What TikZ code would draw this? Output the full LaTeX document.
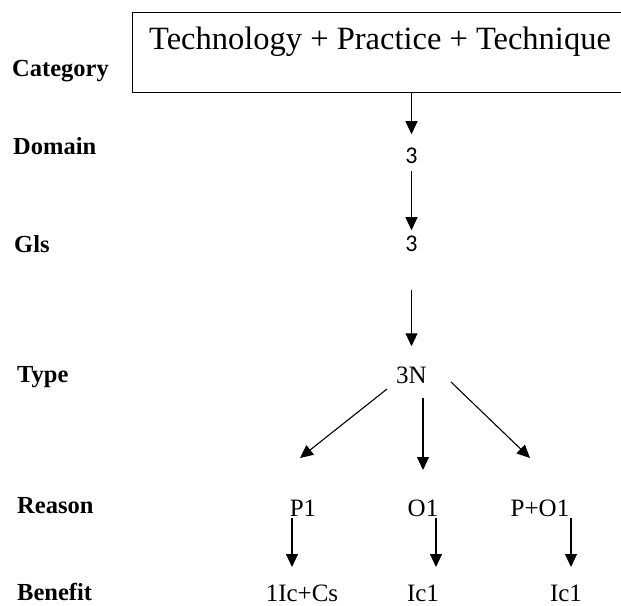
\documentclass[tikz,border=0pt]{standalone}
\usepackage{fontspec}
\setmainfont{Liberation Serif}
\newfontfamily\calibrifont{Carlito}
\usetikzlibrary{arrows.meta}

\tikzset{
  rowlabel/.style={anchor=base west, inner sep=0pt, font=\fontsize{24.5}{28}\selectfont\bfseries},
  value/.style={anchor=base, inner sep=0pt, font=\fontsize{25}{29}\selectfont},
  digit/.style={anchor=base, inner sep=0pt, font=\calibrifont\fontsize{24}{28}\selectfont},
  arr/.style={-{Triangle[width=12pt,length=13pt]}, line width=1.1pt},
}

\begin{document}
\begin{tikzpicture}[x=1pt,y=-1pt]
  \useasboundingbox (0,0) rectangle (621,605);

  % row labels
  \node[rowlabel] (lcat) at (12,76) {Category};
  \node[rowlabel] (ldom) at (13,154) {Domain};
  \node[rowlabel] (lgls) at (14,252) {Gls};
  \node[rowlabel] (ltype) at (17,382) {Type};
  \node[rowlabel] (lreason) at (17,513) {Reason};
  \node[rowlabel] (lbenefit) at (17,600) {Benefit};

  % heading box
  \node[draw, line width=1pt, anchor=north west, minimum width=492pt, minimum height=80pt, inner sep=0pt] (cat) at (132,12) {};
  \node[anchor=base west, inner sep=0pt, font=\fontsize{32.5}{36}\selectfont] (cattext) at (149,49) {Technology + Practice + Technique};

  % values
  \node[digit] (dom) at (411.5,163) {3};
  \node[digit] (gls) at (411.5,251) {3};
  \node[value] (type) at (411.5,383) {3N};
  \node[value] (p1) at (303,516) {P1};
  \node[value] (o1) at (423,516) {O1};
  \node[value] (po1) at (540,516) {P+O1};
  \node[value] (b1) at (302,601) {1Ic+Cs};
  \node[value] (b2) at (423,601) {Ic1};
  \node[value] (b3) at (566,601) {Ic1};

  % connectors
  \draw[arr, shorten >=13pt] (dom |- cat.south) -- (dom);
  \draw[arr, shorten <=8pt, shorten >=5pt] (dom) -- (gls);
  \draw[arr, shorten <=39pt, shorten >=20pt] (gls) -- (type);
  \draw[arr] ([shift={(-24.5,6)}]type.base) -- ([shift={(-3,-58)}]p1.base);
  \draw[arr] ([shift={(11.5,15)}]type.base) -- ([shift={(0,-46)}]o1.base);
  \draw[arr] ([shift={(39.5,-1)}]type.base) -- ([shift={(-10,-58)}]po1.base);
  \draw[arr] ([shift={(-11,2)}]p1.base) -- ([shift={(-10,-34)}]b1.base);
  \draw[arr] ([shift={(13,2)}]o1.base) -- ([shift={(13,-34)}]b2.base);
  \draw[arr] ([shift={(31,2)}]po1.base) -- ([shift={(5,-34)}]b3.base);
\end{tikzpicture}
\end{document}
